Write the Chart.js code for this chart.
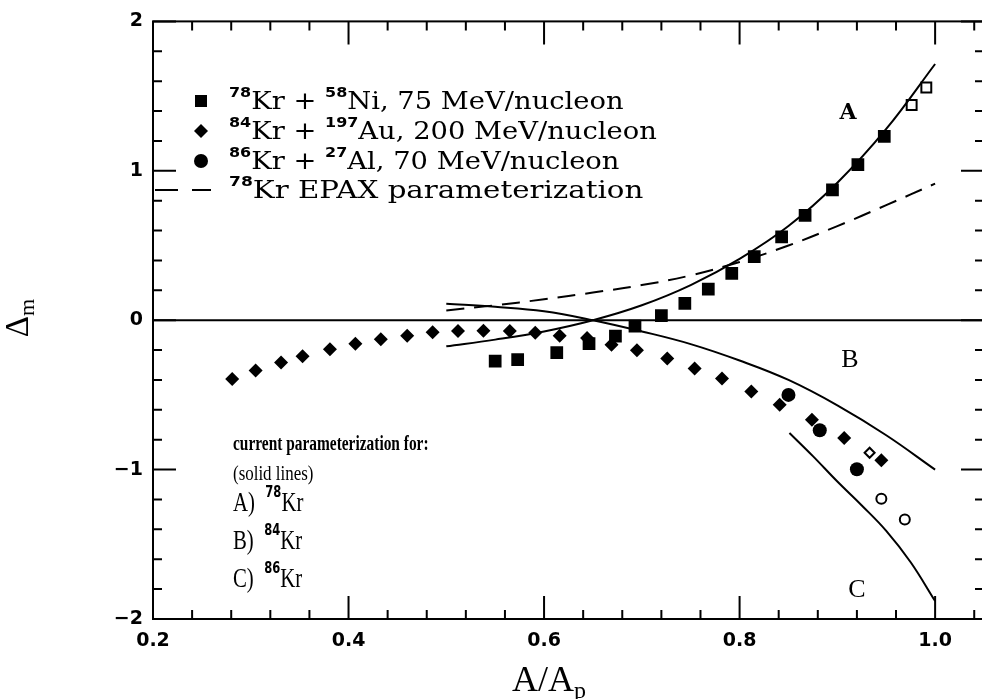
<!DOCTYPE html>
<html>
<head>
<meta charset="utf-8">
<script src="https://cdn.jsdelivr.net/npm/chart.js@4.4.1/dist/chart.umd.min.js"></script>
<style>
html, body { margin: 0; padding: 0; background: #fff; overflow: hidden; width: 982px; height: 699px; }
#wrap { width: 982px; height: 699px; overflow: hidden; position: relative; }
#myChart { position: absolute; left: 0; top: 0; }
</style>
</head>
<body>
<div id="wrap"><canvas id="myChart" width="993" height="699"></canvas></div>
<script>
'use strict';

let xTicks = [0.2, 0.4, 0.6, 0.8, 1.0];
let yTicks = [-2, -1, 0, 1, 2];

// 78Kr + 58Ni, 75 MeV/nucleon (squares)
let niX = [0.550, 0.573, 0.613, 0.646, 0.673, 0.693, 0.720, 0.744, 0.768, 0.792, 0.815, 0.843, 0.867, 0.895, 0.921, 0.948];
let niY = [-0.274, -0.264, -0.217, -0.157, -0.106, -0.040, 0.031, 0.113, 0.208, 0.314, 0.425, 0.558, 0.702, 0.872, 1.042, 1.230];
let niOpenX = [0.976, 0.991];
let niOpenY = [1.440, 1.558];

// 84Kr + 197Au, 200 MeV/nucleon (diamonds)
let auX = [0.281, 0.305, 0.331, 0.353, 0.381, 0.407, 0.433, 0.460, 0.486, 0.512, 0.538, 0.565, 0.591, 0.616, 0.644, 0.669, 0.695, 0.726, 0.754, 0.782, 0.812, 0.841, 0.874, 0.907, 0.945];
let auY = [-0.394, -0.337, -0.283, -0.241, -0.194, -0.157, -0.128, -0.104, -0.080, -0.073, -0.071, -0.073, -0.084, -0.104, -0.119, -0.164, -0.201, -0.257, -0.323, -0.390, -0.478, -0.566, -0.666, -0.788, -0.938];
let auOpenX = [0.933];
let auOpenY = [-0.887];

// 86Kr + 27Al, 70 MeV/nucleon (circles)
let alX = [0.850, 0.882, 0.920];
let alY = [-0.500, -0.737, -0.998];
let alOpenX = [0.945, 0.969];
let alOpenY = [-1.195, -1.334];

// current parameterization curves A, B, C and EPAX
let curveAX = [0.50, 0.55, 0.60, 0.65, 0.70, 0.75, 0.80, 0.85, 0.90, 0.95, 1.00];
let curveAY = [-0.175, -0.130, -0.075, 0.000, 0.100, 0.235, 0.410, 0.630, 0.920, 1.280, 1.715];
let curveBX = [0.50, 0.55, 0.60, 0.65, 0.70, 0.75, 0.80, 0.85, 0.90, 0.95, 1.00];
let curveBY = [0.110, 0.090, 0.060, 0.000, -0.075, -0.160, -0.270, -0.400, -0.570, -0.770, -1.000];
let curveCX = [0.851, 0.875, 0.90, 0.925, 0.95, 0.975, 1.00];
let curveCY = [-0.755, -0.910, -1.080, -1.240, -1.410, -1.620, -1.880];
let epaxX = [0.50, 0.55, 0.60, 0.65, 0.70, 0.75, 0.80, 0.85, 0.90, 0.95, 1.00];
let epaxY = [0.065, 0.100, 0.140, 0.185, 0.235, 0.300, 0.390, 0.500, 0.630, 0.770, 0.914];

function pts(xs, ys) {
    let out = [];
    for (let i = 0; i < xs.length; i++) {
        out.push({ x: xs[i], y: ys[i] });
    }
    return out;
}

function marks(xs, ys, style, r, filled) {
    return {
        data: pts(xs, ys),
        showLine: false,
        pointStyle: style,
        pointRadius: r,
        pointBackgroundColor: filled ? '#000' : '#fff',
        pointBorderColor: '#000',
        pointBorderWidth: filled ? 0 : 2
    };
}

function curve(xs, ys, dash) {
    return {
        data: pts(xs, ys),
        showLine: true,
        borderColor: '#000',
        borderWidth: 2,
        borderDash: dash,
        pointRadius: 0,
        tension: 0.4,
        fill: false
    };
}

// text with superscripts, one font for body and one for the raised part
function drawRich(c, parts, x, y, font, supFont, supRise) {
    for (let p of parts) {
        if (p.sup) {
            c.font = supFont;
            c.fillText(p.t, x, y - supRise);
        } else {
            c.font = font;
            c.fillText(p.t, x, y);
        }
        x += c.measureText(p.t).width;
    }
    return x;
}

let legendRows = [
    [{ t: '78', sup: true }, { t: 'Kr + ' }, { t: '58', sup: true }, { t: 'Ni, 75 MeV/nucleon' }],
    [{ t: '84', sup: true }, { t: 'Kr + ' }, { t: '197', sup: true }, { t: 'Au, 200 MeV/nucleon' }],
    [{ t: '86', sup: true }, { t: 'Kr + ' }, { t: '27', sup: true }, { t: 'Al, 70 MeV/nucleon' }],
    [{ t: '78', sup: true }, { t: 'Kr EPAX parameterization' }]
];
let noteRows = [
    [{ t: 'A)  ' }, { t: '78', sup: true }, { t: 'Kr' }],
    [{ t: 'B)  ' }, { t: '84', sup: true }, { t: 'Kr' }],
    [{ t: 'C)  ' }, { t: '86', sup: true }, { t: 'Kr' }]
];

let decor = {
    id: 'decor',
    afterDatasetsDraw(chart) {
        let c = chart.ctx;
        let a = chart.chartArea;
        let sx = chart.scales.x;
        let sy = chart.scales.y;
        c.save();
        c.strokeStyle = '#000';
        c.fillStyle = '#000';
        c.lineWidth = 2;
        c.strokeRect(a.left, a.top, a.right - a.left, a.bottom - a.top);

        // inward ticks on all four sides
        c.beginPath();
        for (let i = 0; i <= 21; i++) {
            let v = 0.2 + i * 0.04;
            let px = sx.getPixelForValue(v);
            let len = (i % 5 === 0) ? 23 : 9;
            c.moveTo(px, a.bottom); c.lineTo(px, a.bottom - len);
            c.moveTo(px, a.top); c.lineTo(px, a.top + len);
        }
        for (let i = 0; i <= 20; i++) {
            let v = -2 + i * 0.2;
            let py = sy.getPixelForValue(v);
            let len = (i % 5 === 0) ? 23 : 9;
            c.moveTo(a.left, py); c.lineTo(a.left + len, py);
            c.moveTo(a.right, py); c.lineTo(a.right - len, py);
        }
        c.stroke();

        // legend
        let rowY = [101, 131, 161, 190];
        let rowScale = [1.14, 1.14, 1.14, 1.22];
        c.textBaseline = 'middle';
        c.textAlign = 'left';
        let lx = 201;
        c.fillRect(lx - 6, rowY[0] - 6, 12, 12);
        c.beginPath();
        c.moveTo(lx - 7, rowY[1]); c.lineTo(lx, rowY[1] - 7); c.lineTo(lx + 7, rowY[1]); c.lineTo(lx, rowY[1] + 7);
        c.closePath(); c.fill();
        c.beginPath(); c.arc(lx, rowY[2], 7, 0, Math.PI * 2); c.fill();
        c.beginPath();
        c.moveTo(155, rowY[3]); c.lineTo(178, rowY[3]);
        c.moveTo(192, rowY[3]); c.lineTo(211, rowY[3]);
        c.stroke();
        for (let i = 0; i < legendRows.length; i++) {
            c.save();
            c.translate(229, rowY[i] + 2);
            c.scale(rowScale[i], 1);
            drawRich(c, legendRows[i], 0, 0, '24px "DejaVu Serif"', 'bold 14px "DejaVu Sans"', 10);
            c.restore();
        }

        // parameterization note
        c.save();
        c.translate(233, 0);
        c.scale(0.77, 1);
        c.font = 'bold 20px "Liberation Serif"';
        c.fillText('current parameterization for:', 0, 445);
        c.font = '22px "Liberation Serif"';
        c.fillText('(solid lines)', 0, 474);
        let ny = [504, 542, 580];
        for (let i = 0; i < noteRows.length; i++) {
            drawRich(c, noteRows[i], 0, ny[i], '27px "Liberation Serif"', 'bold 15px "DejaVu Sans"', 11);
        }
        c.restore();

        // curve labels
        c.textAlign = 'center';
        c.font = 'bold 22px "DejaVu Serif"';
        c.fillText('A', 848, 113);
        c.font = '26px "Liberation Serif"';
        c.fillText('B', 850, 360);
        c.fillText('C', 857, 590);

        // axis titles
        c.textAlign = 'left';
        c.font = '36px "Liberation Serif"';
        let w1 = c.measureText('A/A').width;
        c.font = '24px "Liberation Serif"';
        let w2 = c.measureText('p').width;
        let tx = 549 - (w1 + w2) / 2;
        c.font = '36px "Liberation Serif"';
        c.fillText('A/A', tx, 682);
        c.font = '24px "Liberation Serif"';
        c.fillText('p', tx + w1, 692);

        c.save();
        c.translate(21, 318);
        c.rotate(-Math.PI / 2);
        c.font = '33px "Liberation Serif"';
        let d1 = c.measureText('\u0394').width;
        c.font = '22px "Liberation Serif"';
        let d2 = c.measureText('m').width;
        c.font = '33px "Liberation Serif"';
        c.fillText('\u0394', -(d1 + d2) / 2, -2);
        c.font = '22px "Liberation Serif"';
        c.fillText('m', -(d1 + d2) / 2 + d1, 7);
        c.restore();

        c.restore();
    }
};

let ctx = document.getElementById('myChart').getContext('2d');
let chart = new Chart(ctx, {
    type: 'scatter',
    data: {
        datasets: [
            curve([0.2, 1.05], [0, 0], []),
            curve(curveAX, curveAY, []),
            curve(curveBX, curveBY, []),
            curve(curveCX, curveCY, []),
            curve(epaxX, epaxY, [18, 10]),
            marks(niX, niY, 'rect', 9, true),
            marks(niOpenX, niOpenY, 'rect', 7, false),
            marks(auX, auY, 'rectRot', 7, true),
            marks(auOpenX, auOpenY, 'rectRot', 5, false),
            marks(alX, alY, 'circle', 7, true),
            marks(alOpenX, alOpenY, 'circle', 5, false)
        ]
    },
    options: {
        responsive: false,
        animation: false,
        layout: { padding: { top: 17, right: 0, left: 0, bottom: 0 } },
        plugins: { legend: { display: false }, tooltip: { enabled: false } },
        scales: {
            x: {
                type: 'linear',
                min: 0.2,
                max: 1.05,
                grid: { display: false, drawTicks: false, tickLength: 0 },
                border: { display: false },
                afterBuildTicks: function (s) { s.ticks = xTicks.map(v => ({ value: v })); },
                afterFit: function (s) { s.height = 80; },
                ticks: {
                    color: '#000',
                    padding: 11,
                    maxRotation: 0,
                    font: { family: 'DejaVu Sans', weight: 'bold', size: 19 },
                    callback: v => v.toFixed(1)
                }
            },
            y: {
                type: 'linear',
                min: -2,
                max: 2,
                grid: { display: false, drawTicks: false, tickLength: 0 },
                border: { display: false },
                afterBuildTicks: function (s) { s.ticks = yTicks.map(v => ({ value: v })); },
                afterFit: function (s) { s.width = 153; },
                ticks: {
                    color: '#000',
                    padding: 10,
                    font: { family: 'DejaVu Sans', weight: 'bold', size: 19 },
                    callback: v => v < 0 ? '\u2212' + Math.abs(v) : String(v)
                }
            }
        }
    },
    plugins: [decor]
});
</script>
</body>
</html>
